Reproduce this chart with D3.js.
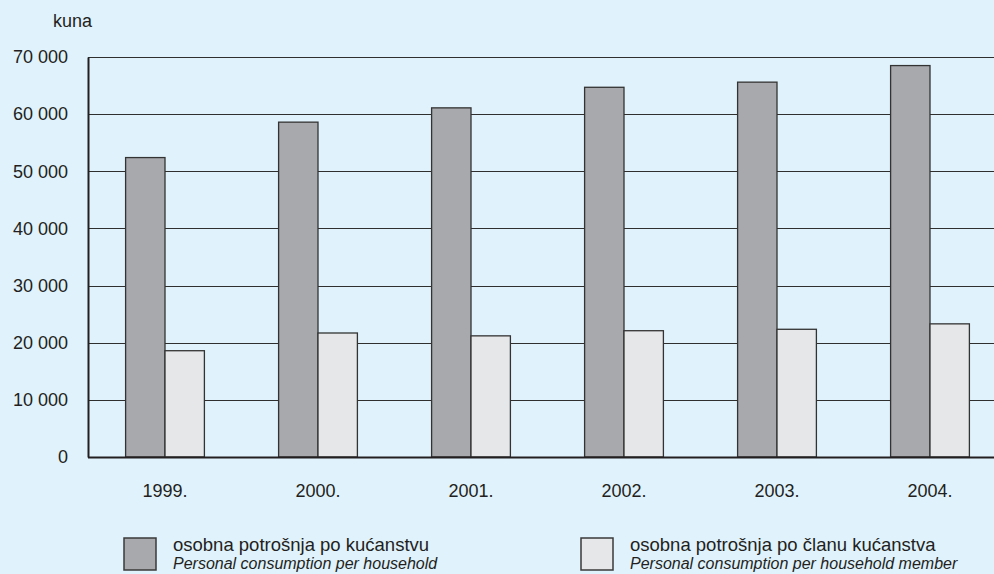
<!DOCTYPE html>
<html>
<head>
<meta charset="utf-8">
<script src="https://cdn.jsdelivr.net/npm/d3@7"></script>
<style>
  html, body { margin: 0; padding: 0; background: #e0f2fc; }
  svg { display: block; }
  text { font-family: "Liberation Sans", Arial, sans-serif; fill: #231f20; }
</style>
</head>
<body>
<svg id="chart" width="994" height="574"></svg>
<script>
const years = ["1999.", "2000.", "2001.", "2002.", "2003.", "2004."];
const household = [52400, 58600, 61100, 64700, 65600, 68500];
const member = [18600, 21700, 21200, 22100, 22350, 23300];
const yTicks = [0, 10000, 20000, 30000, 40000, 50000, 60000, 70000];
const seriesKeys = ["household", "member"];
const seriesLabels = ["osobna potrošnja po kućanstvu", "osobna potrošnja po članu kućanstva"];
const seriesLabelsEn = ["Personal consumption per household", "Personal consumption per household member"];
const colors = ["#a8a9ad", "#e6e7e9"];

const data = years.map((yr, i) => ({ year: yr, household: household[i], member: member[i] }));

const svg = d3.select("#chart");
const W = 994, H = 574;
const mLeft = 88, mRight = 994, mTop = 57, mBottom = 457;

svg.append("rect").attr("width", W).attr("height", H).attr("fill", "#e0f2fc");

const y = d3.scaleLinear().domain([0, 70000]).range([mBottom, mTop]);
const x0 = d3.scaleBand().domain(years).range([88.5, 1006.5]).paddingInner(0.485).paddingOuter(0.2425);
const x1 = d3.scaleBand().domain(seriesKeys).range([0, x0.bandwidth()]);
const fmt = v => d3.format(",")(v).replace(/,/g, " ");

// gridlines
svg.append("g").selectAll("line").data(yTicks.filter(t => t > 0)).join("line")
  .attr("x1", mLeft).attr("x2", mRight)
  .attr("y1", d => Math.round(y(d)) + 0.5).attr("y2", d => Math.round(y(d)) + 0.5)
  .attr("stroke", "#2f2f2f").attr("stroke-width", 1);

// bars
const g = svg.append("g");
g.selectAll("g").data(data).join("g")
  .attr("transform", d => `translate(${x0(d.year)},0)`)
  .selectAll("rect")
  .data(d => seriesKeys.map((k, i) => ({ key: k, value: d[k], i })))
  .join("rect")
  .attr("x", d => x1(d.key))
  .attr("width", x1.bandwidth())
  .attr("y", d => y(d.value))
  .attr("height", d => y(0) - y(d.value))
  .attr("fill", d => colors[d.i])
  .attr("stroke", "#333")
  .attr("stroke-width", 1.3);

// y axis
const yAxis = svg.append("g").attr("transform", `translate(${mLeft},0)`)
  .call(d3.axisLeft(y).tickValues(yTicks).tickFormat(fmt).tickSize(0).tickPadding(20));
yAxis.select(".domain").attr("stroke", "#231f20").attr("stroke-width", 2);
yAxis.selectAll("text").style("font-size", "18px").attr("fill", "#231f20")
  .attr("font-family", "Liberation Sans, Arial, sans-serif");

// x axis
const xAxis = svg.append("g").attr("transform", `translate(0,${mBottom})`)
  .call(d3.axisBottom(x0).tickSize(0).tickPadding(27));
xAxis.select(".domain").attr("d", `M${mLeft},0.5H${mRight}`).attr("stroke", "#231f20").attr("stroke-width", 2);
xAxis.selectAll("text").style("font-size", "18px").attr("fill", "#231f20")
  .attr("font-family", "Liberation Sans, Arial, sans-serif");

// unit label
svg.append("text").attr("x", 53).attr("y", 27).style("font-size", "18px").text("kuna");

// legend
const legendX = [124, 581];
const lg = svg.append("g").selectAll("g").data(seriesKeys).join("g")
  .attr("transform", (d, i) => `translate(${legendX[i]},538)`);
lg.append("rect").attr("width", 32).attr("height", 32)
  .attr("fill", (d, i) => colors[i]).attr("stroke", "#3a3a3a").attr("stroke-width", 1.5);
lg.append("text").attr("x", 49).attr("y", 13).style("font-size", "18.5px").text((d, i) => seriesLabels[i]);
lg.append("text").attr("x", 49).attr("y", 30.5).style("font-size", "16px").style("font-style", "italic").text((d, i) => seriesLabelsEn[i]);
</script>
</body>
</html>
